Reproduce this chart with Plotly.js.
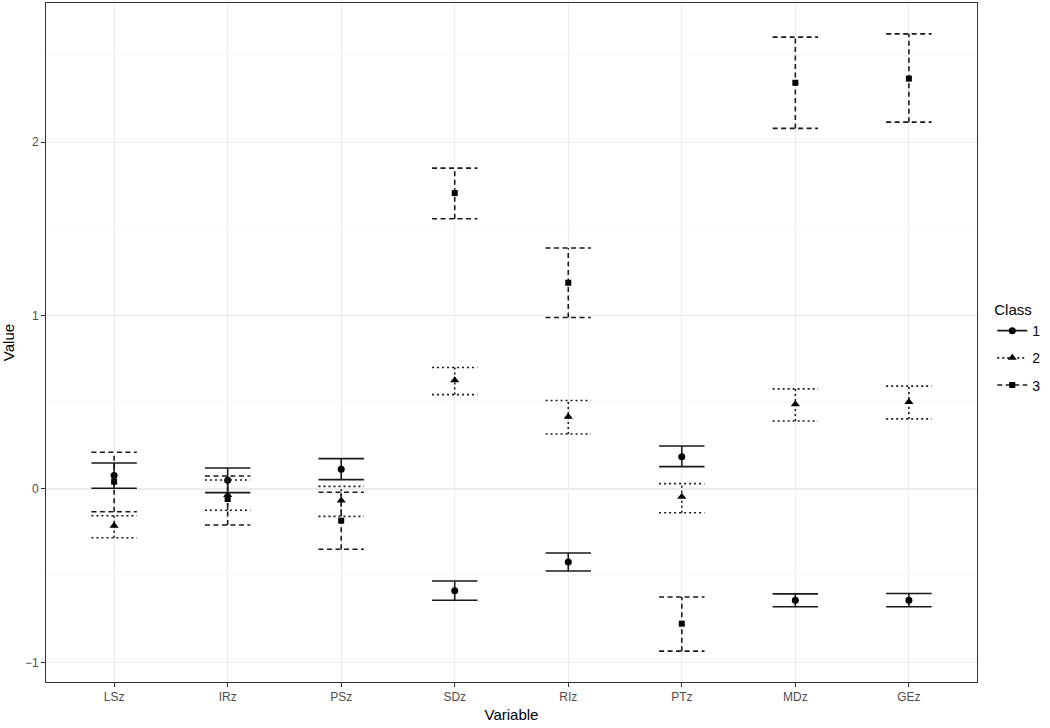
<!DOCTYPE html>
<html>
<head>
<meta charset="utf-8">
<script src="https://cdn.plot.ly/plotly-3.0.1.min.js"></script>
<style>
html,body{margin:0;padding:0;background:#fff;}
#chart{width:1050px;height:728px;}
</style>
</head>
<body>
<div id="chart"></div>
<script>
// ---- data ----
const categories = ['LSz', 'IRz', 'PSz', 'SDz', 'RIz', 'PTz', 'MDz', 'GEz'];
const classNames = ['1', '2', '3'];

const class1Mean  = [0.077, 0.050, 0.113, -0.587, -0.421, 0.186, -0.641, -0.641];
const class1Lower = [0.004, -0.021, 0.054, -0.642, -0.473, 0.129, -0.679, -0.679];
const class1Upper = [0.150, 0.121, 0.175, -0.531, -0.369, 0.248, -0.605, -0.603];

const class2Mean  = [-0.212, -0.035, -0.067, 0.627, 0.417, -0.045, 0.488, 0.502];
const class2Lower = [-0.281, -0.123, -0.158, 0.544, 0.317, -0.137, 0.392, 0.404];
const class2Upper = [-0.154, 0.052, 0.015, 0.700, 0.510, 0.031, 0.577, 0.593];

const class3Mean  = [0.042, -0.058, -0.183, 1.706, 1.189, -0.777, 2.342, 2.366];
const class3Lower = [-0.131, -0.208, -0.348, 1.558, 0.989, -0.935, 2.079, 2.115];
const class3Upper = [0.212, 0.075, -0.019, 1.850, 1.389, -0.623, 2.605, 2.624];

const yTickVals = [-1, 0, 1, 2];

// ---- styling ----
const series = [
  {name: classNames[0], mean: class1Mean, lo: class1Lower, hi: class1Upper, dash: 'solid', symbol: 'circle', size: 7},
  {name: classNames[1], mean: class2Mean, lo: class2Lower, hi: class2Upper, dash: '2px,3px', symbol: 'triangle-up', size: 8},
  {name: classNames[2], mean: class3Mean, lo: class3Lower, hi: class3Upper, dash: '5px,3.5px', symbol: 'square', size: 6}
];
const capHalf = 0.2;
const lineColor = '#1a1a1a';

const traces = [];
series.forEach((s, k) => {
  const ex = [], ey = [];
  categories.forEach((c, i) => {
    ex.push(i, i, null, i - capHalf, i + capHalf, null, i - capHalf, i + capHalf, null);
    ey.push(s.lo[i], s.hi[i], null, s.hi[i], s.hi[i], null, s.lo[i], s.lo[i], null);
  });
  traces.push({
    type: 'scatter', mode: 'lines', x: ex, y: ey,
    line: {color: lineColor, width: 1.6, dash: s.dash},
    legendgroup: 'g' + k, showlegend: false, hoverinfo: 'skip'
  });
  const px = [], py = [];
  categories.forEach((c, i) => { px.push(i, null); py.push(s.mean[i], null); });
  traces.push({
    type: 'scatter', mode: 'lines+markers', x: px, y: py, name: s.name,
    connectgaps: false,
    line: {color: lineColor, width: 1.6, dash: s.dash},
    marker: {color: '#000', symbol: s.symbol, size: s.size},
    legendgroup: 'g' + k
  });
});

const font = 'Liberation Sans, Arial, Helvetica, sans-serif';
const layout = {
  width: 1050, height: 728,
  margin: {l: 46, r: 73, t: 3, b: 46},
  paper_bgcolor: '#fff', plot_bgcolor: '#fff',
  font: {family: font, color: '#000'},
  xaxis: {
    range: [-0.6, 7.6],
    tickmode: 'array', tickvals: categories.map((c, i) => i), ticktext: categories,
    showgrid: true, gridcolor: '#EBEBEB', gridwidth: 1.1,
    zeroline: false,
    showline: true, mirror: true, linecolor: '#333', linewidth: 1,
    ticks: 'outside', ticklen: 4, tickcolor: '#333', tickwidth: 1,
    tickfont: {family: font, size: 12, color: '#4D4D4D'},
    title: {text: 'Variable', font: {family: font, size: 15, color: '#000'}, standoff: 6}
  },
  yaxis: {
    range: [-1.113, 2.802],
    tickmode: 'array', tickvals: yTickVals,
    showgrid: true, gridcolor: '#EBEBEB', gridwidth: 1.1,
    minor: {dtick: 0.5, tick0: 0, showgrid: true, gridcolor: '#F2F2F2', gridwidth: 0.6, ticks: ''},
    zeroline: false,
    showline: true, mirror: true, linecolor: '#333', linewidth: 1,
    ticks: 'outside', ticklen: 4, tickcolor: '#333', tickwidth: 1,
    tickfont: {family: font, size: 12, color: '#4D4D4D'},
    title: {text: 'Value', font: {family: font, size: 15, color: '#000'}, standoff: 10}
  },
  legend: {
    xref: 'container', yref: 'container',
    x: 0.945, y: 0.594, xanchor: 'left', yanchor: 'top',
    title: {text: 'Class', font: {family: font, size: 15, color: '#000'}},
    font: {family: font, size: 14, color: '#000'},
    tracegroupgap: 6, itemwidth: 30,
    bgcolor: 'rgba(0,0,0,0)'
  },
  showlegend: true
};

Plotly.newPlot('chart', traces, layout, {displayModeBar: false, staticPlot: true});
</script>
</body>
</html>
